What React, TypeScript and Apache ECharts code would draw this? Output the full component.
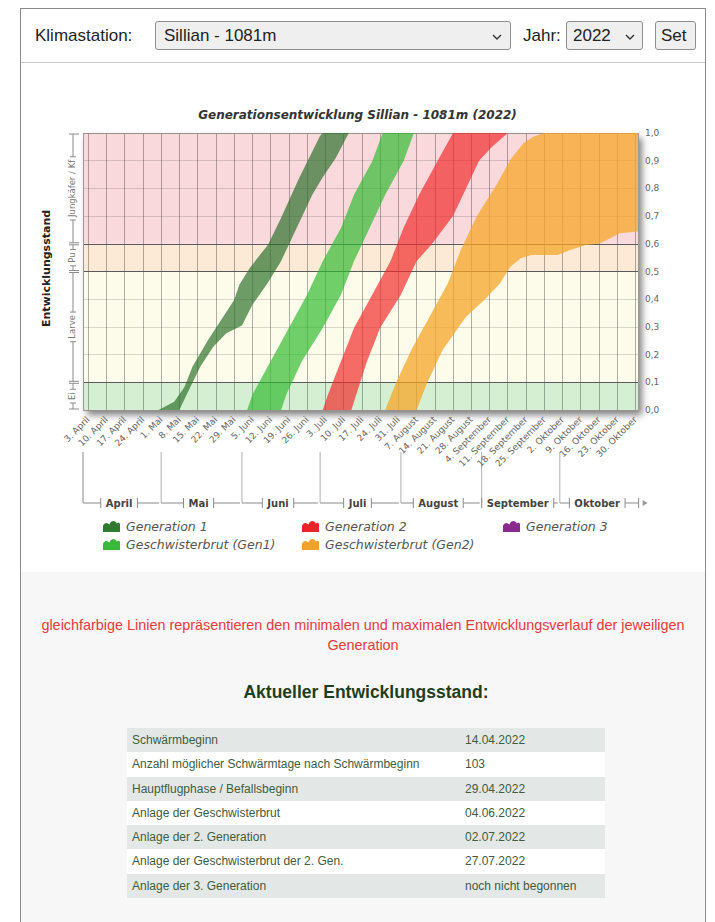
import React, { useEffect, useRef } from 'react';
import * as echarts from 'echarts';

// ---------- data ----------
const YEAR = 2022;
const monthNamesDe = ['Januar', 'Februar', 'März', 'April', 'Mai', 'Juni', 'Juli', 'August', 'September', 'Oktober', 'November', 'Dezember'];
const axisStart = '04-01';
const axisEnd = '10-31';

// Sundays shown as tick labels on the date axis
const weekTicks = [
  '04-03', '04-10', '04-17', '04-24',
  '05-01', '05-08', '05-15', '05-22', '05-29',
  '06-05', '06-12', '06-19', '06-26',
  '07-03', '07-10', '07-17', '07-24', '07-31',
  '08-07', '08-14', '08-21', '08-28',
  '09-04', '09-11', '09-18', '09-25',
  '10-02', '10-09', '10-16', '10-23', '10-30',
];

const monthLabels = ['April', 'Mai', 'Juni', 'Juli', 'August', 'September', 'Oktober'];
const monthStarts = ['04-01', '05-01', '06-01', '07-01', '08-01', '09-01', '10-01', '11-01'];

const stageLabels = ['Ei', 'Larve', 'Pu', 'Jungkäfer / Kf'];
const stageBounds = [0, 0.1, 0.5, 0.6, 1.0];
const stageColors = ['#d5efd3', '#fdfbea', '#fcead6', '#f9d9dc'];
const minorLevels = [0.2, 0.3, 0.4, 0.7, 0.8, 0.9];
const thresholdLevels = [0.1, 0.5, 0.6];

// development curves: [date (MM-DD), Entwicklungsstand]
const gen1Max = [['04-30', 0], ['05-06', 0.03], ['05-10', 0.084], ['05-13', 0.156], ['05-19', 0.253], ['05-24', 0.325], ['05-29', 0.397], ['05-31', 0.452], ['06-04', 0.513], ['06-11', 0.597], ['06-16', 0.693], ['06-23', 0.838], ['07-01', 0.99], ['07-02', 1.0]];
const gen1Min = [['05-08', 0], ['05-11', 0.06], ['05-16', 0.156], ['05-21', 0.228], ['05-26', 0.277], ['06-01', 0.305], ['06-05', 0.38], ['06-11', 0.46], ['06-16', 0.537], ['06-22', 0.657], ['06-28', 0.777], ['07-02', 0.84], ['07-07', 0.91], ['07-12', 1.0]];

const sib1Max = [['06-03', 0], ['06-05', 0.055], ['06-12', 0.176], ['06-19', 0.296], ['06-26', 0.416], ['07-02', 0.537], ['07-09', 0.657], ['07-14', 0.777], ['07-21', 0.898], ['07-25', 1.0]];
const sib1Min = [['06-16', 0], ['06-18', 0.055], ['06-24', 0.176], ['07-02', 0.296], ['07-09', 0.416], ['07-14', 0.537], ['07-20', 0.657], ['07-26', 0.777], ['08-02', 0.898], ['08-06', 1.0]];

const gen2Max = [['07-02', 0], ['07-04', 0.055], ['07-09', 0.176], ['07-14', 0.296], ['07-21', 0.416], ['07-28', 0.537], ['08-02', 0.657], ['08-08', 0.777], ['08-15', 0.898], ['08-21', 1.0]];
const gen2Min = [['07-13', 0], ['07-15', 0.06], ['07-19', 0.176], ['07-24', 0.296], ['08-01', 0.416], ['08-07', 0.537], ['08-13', 0.6], ['08-21', 0.7], ['08-26', 0.8], ['08-31', 0.9], ['09-05', 0.95], ['09-11', 1.0]];

const sib2Max = [['07-26', 0], ['07-30', 0.096], ['08-05', 0.217], ['08-12', 0.337], ['08-19', 0.457], ['08-24', 0.578], ['08-30', 0.698], ['09-07', 0.818], ['09-12', 0.903], ['09-17', 0.963], ['09-21', 0.987], ['09-25', 1.0], ['10-31', 1.0]];
const sib2Min = [['08-07', 0], ['08-11', 0.096], ['08-17', 0.217], ['08-26', 0.337], ['09-02', 0.397], ['09-08', 0.457], ['09-12', 0.517], ['09-16', 0.548], ['09-20', 0.56], ['09-30', 0.56], ['10-05', 0.578], ['10-11', 0.596], ['10-16', 0.6], ['10-19', 0.614], ['10-24', 0.638], ['10-31', 0.644]];

const seriesNames = ['Generation 1', 'Geschwisterbrut (Gen1)', 'Generation 2', 'Geschwisterbrut (Gen2)', 'Generation 3'];
const legendColors = ['#2f7a2f', '#39b83a', '#e8262a', '#f0a22a', '#8a2a8c'];
const bandFills = ['rgba(40,110,40,0.68)', 'rgba(45,185,45,0.68)', 'rgba(240,40,40,0.68)', 'rgba(246,165,40,0.75)'];

const tableRows = [
  ['Schwärmbeginn', '14.04.2022'],
  ['Anzahl möglicher Schwärmtage nach Schwärmbeginn', '103'],
  ['Hauptflugphase / Befallsbeginn', '29.04.2022'],
  ['Anlage der Geschwisterbrut', '04.06.2022'],
  ['Anlage der 2. Generation', '02.07.2022'],
  ['Anlage der Geschwisterbrut der 2. Gen.', '27.07.2022'],
  ['Anlage der 3. Generation', 'noch nicht begonnen'],
];

// ---------- helpers ----------
const BASE = Date.UTC(YEAR, 3, 1);
const dayOf = (md: string) => {
  const [m, d] = md.split('-').map(Number);
  return Math.round((Date.UTC(YEAR, m - 1, d) - BASE) / 86400000);
};
const dayLabel = (v: number) => {
  const dt = new Date(BASE + Math.round(v) * 86400000);
  return dt.getUTCDate() + '. ' + monthNamesDe[dt.getUTCMonth()];
};
const FONT = 'DejaVu Sans';
const measure = (text: string, font: string) => {
  const c = document.createElement('canvas').getContext('2d');
  if (!c) return text.length * 6;
  c.font = font;
  return c.measureText(text).width;
};

function bandSeries(idx: number, maxC: any[], minC: any[]) {
  const pts = maxC.map(([d, v]) => [dayOf(d), v]).concat(minC.slice().reverse().map(([d, v]) => [dayOf(d), v]));
  return {
    type: 'custom',
    name: seriesNames[idx],
    z: 10,
    silent: true,
    itemStyle: { color: legendColors[idx] },
    encode: { x: 0, y: 1 },
    data: pts,
    renderItem: (params: any, api: any) => {
      if (params.dataIndexInside !== 0) return null;
      const n = params.dataInsideLength;
      const points = [];
      for (let i = 0; i < n; i++) points.push(api.coord([api.value(0, i), api.value(1, i)]));
      return { type: 'polygon', shape: { points }, style: { fill: bandFills[idx], stroke: 'none' } };
    },
  };
}

function buildOption() {
  const xMin = dayOf(axisStart);
  const xMax = dayOf(axisEnd);
  const tickDays = weekTicks.map(dayOf);
  const legendCommon = {
    orient: 'vertical',
    padding: 0,
    itemGap: 5,
    itemWidth: 17,
    itemHeight: 11,
    icon: 'path://M0,12 L0,6 C2,3 4,3 6,5 C8,1 11,1 13,4 C14,3 16,3 16,5 L16,12 Z',
    textStyle: { fontFamily: FONT, fontStyle: 'italic', fontSize: 12.5, color: '#555', padding: [0, 0, 0, 1] },
    selectedMode: false,
  };
  const lineData: any[] = [];
  minorLevels.forEach((v) => lineData.push({ yAxis: v, lineStyle: { color: 'rgba(0,0,0,0.14)', width: 1, type: 'solid' } }));
  tickDays.forEach((d) => lineData.push({ xAxis: d, lineStyle: { color: 'rgba(0,0,0,0.30)', width: 1, type: 'solid' } }));
  thresholdLevels.forEach((v) => lineData.push({ yAxis: v, lineStyle: { color: '#5a5a5a', width: 1.2, type: 'solid' } }));
  [0, 1].forEach((v) => lineData.push({ yAxis: v, lineStyle: { color: '#9a9090', width: 1, type: 'solid' } }));
  [xMin, xMax].forEach((d) => lineData.push({ xAxis: d, lineStyle: { color: '#9a9a9a', width: 1, type: 'solid' } }));

  return {
    animation: false,
    textStyle: { fontFamily: FONT },
    title: {
      text: 'Generationsentwicklung Sillian - 1081m (2022)',
      left: 'center',
      top: 47,
      padding: 0,
      textStyle: { fontFamily: FONT, fontSize: 12, fontWeight: 'bold', fontStyle: 'italic', color: '#333' },
    },
    grid: {
      left: 83, right: 77, top: 71, bottom: 162,
      show: true, backgroundColor: '#fff', borderWidth: 0,
      shadowColor: 'rgba(0,0,0,0.5)', shadowBlur: 7, shadowOffsetX: 4, shadowOffsetY: 5,
    },
    xAxis: {
      type: 'value',
      min: xMin,
      max: xMax,
      splitLine: { show: false },
      axisLine: { show: false },
      axisTick: { show: false, customValues: tickDays },
      axisLabel: {
        customValues: tickDays,
        rotate: 45,
        fontSize: 9,
        fontFamily: FONT,
        color: '#666',
        margin: 8,
        formatter: (v: number) => dayLabel(v),
      },
    },
    yAxis: {
      type: 'value',
      position: 'right',
      min: 0,
      max: 1,
      interval: 0.1,
      splitLine: { show: false },
      axisLine: { show: false },
      axisTick: { show: false },
      axisLabel: {
        fontSize: 9,
        fontFamily: FONT,
        color: '#666',
        margin: 7,
        formatter: (v: number) => v.toFixed(1).replace('.', ','),
      },
    },
    legend: [
      { ...legendCommon, left: 103, top: 458, data: [seriesNames[0], seriesNames[1]] },
      { ...legendCommon, left: 302, top: 458, data: [seriesNames[2], seriesNames[3]] },
      { ...legendCommon, left: 503, top: 458, data: [seriesNames[4]] },
    ],
    series: [
      {
        type: 'line',
        data: [],
        silent: true,
        markArea: {
          silent: true,
          data: stageColors.map((c, i) => [
            { xAxis: xMin, yAxis: stageBounds[i], itemStyle: { color: c } },
            { xAxis: xMax, yAxis: stageBounds[i + 1] },
          ]),
        },
        markLine: {
          silent: true,
          symbol: ['none', 'none'],
          label: { show: false },
          data: lineData,
        },
      },
      bandSeries(0, gen1Max, gen1Min),
      bandSeries(1, sib1Max, sib1Min),
      bandSeries(2, gen2Max, gen2Min),
      bandSeries(3, sib2Max, sib2Min),
      {
        type: 'custom',
        name: seriesNames[4],
        itemStyle: { color: legendColors[4] },
        data: [],
        renderItem: () => null,
      },
    ],
  };
}

function txt(text: string, x: number, y: number, size: number, opts: any = {}) {
  return {
    type: 'text',
    x, y,
    rotation: opts.rotation || 0,
    silent: true,
    style: {
      text,
      fontSize: size,
      fontFamily: FONT,
      fontWeight: opts.weight || 'normal',
      fill: opts.color || '#444',
      align: 'center', textAlign: 'center',
      verticalAlign: 'middle', textVerticalAlign: 'middle',
    },
  };
}
function seg(x1: number, y1: number, x2: number, y2: number, color: string) {
  return { type: 'line', silent: true, shape: { x1, y1, x2, y2 }, style: { stroke: color, lineWidth: 1 } };
}

function buildGraphic(chart: any) {
  const px = (d: number) => chart.convertToPixel({ xAxisIndex: 0 }, d);
  const py = (v: number) => chart.convertToPixel({ yAxisIndex: 0 }, v);
  const els: any[] = [];
  const y0 = py(0);
  const y1 = py(1);

  // y axis title
  els.push(txt('Entwicklungsstand', 46, (y0 + y1) / 2 - 3, 11, { rotation: Math.PI / 2, weight: 'bold', color: '#222' }));

  // stage bracket on the left
  const sx = 73;
  const sColor = '#8a8a8a';
  stageLabels.forEach((lab, i) => {
    const ya = py(stageBounds[i]);
    const yb = py(stageBounds[i + 1]);
    const c = (ya + yb) / 2;
    const half = measure(lab, '8.5px "DejaVu Sans"') / 2 + 3;
    els.push(seg(sx, yb + 1, sx, c - half, sColor));
    els.push(seg(sx, c + half, sx, ya - 1, sColor));
    els.push(seg(sx - 3, c - half, sx + 3, c - half, sColor));
    els.push(seg(sx - 3, c + half, sx + 3, c + half, sColor));
    els.push(seg(sx - 4, yb + 1, sx + 6, yb + 1, sColor));
    els.push(seg(sx - 4, ya - 1, sx + 6, ya - 1, sColor));
    els.push(txt(lab, sx - 1, c, 8.5, { rotation: Math.PI / 2, color: '#777' }));
  });

  // month bracket below the date labels
  const ly = y0 + 93;
  const mColor = '#8a8a8a';
  monthLabels.forEach((lab, i) => {
    const ps = px(dayOf(monthStarts[i]));
    const pe = px(dayOf(monthStarts[i + 1]));
    const c = (ps + pe) / 2 - 3;
    const half = measure(lab, 'bold 10px "DejaVu Sans"') / 2 + 5;
    els.push(seg(ps, y0 + 42, ps, ly, i === 0 ? mColor : '#b0b0b0'));
    els.push(seg(ps, ly, c - half, ly, mColor));
    els.push(seg(c + half, ly, pe - 2, ly, mColor));
    els.push(seg(c - half, ly - 5, c - half, ly + 5, mColor));
    els.push(seg(c + half, ly - 5, c + half, ly + 5, mColor));
    els.push(txt(lab, c, ly, 10, { weight: 'bold', color: '#444' }));
  });
  const pEnd = px(dayOf(monthStarts[monthStarts.length - 1]));
  els.push(seg(pEnd - 2, ly - 5, pEnd - 2, ly + 5, mColor));
  els.push({ type: 'polygon', silent: true, shape: { points: [[pEnd + 2, ly - 3], [pEnd + 7, ly], [pEnd + 2, ly + 3]] }, style: { fill: '#999' } });

  return els;
}

function Chart() {
  const ref = useRef<HTMLDivElement>(null);
  useEffect(() => {
    const chart = echarts.init(ref.current as HTMLDivElement, null, { renderer: 'svg' });
    chart.setOption(buildOption() as any);
    chart.setOption({ graphic: { elements: buildGraphic(chart) } } as any);
    return () => chart.dispose();
  }, []);
  return <div ref={ref} style={{ position: 'absolute', left: 0, top: 62, width: 715, height: 510 }} />;
}

function Chevron({ x }: { x: number }) {
  return (
    <svg width="10" height="8" style={{ position: 'absolute', left: x, top: 11 }}>
      <polyline points="1,2 5,6 9,2" fill="none" stroke="#333" strokeWidth="1.4" />
    </svg>
  );
}

const headerText: React.CSSProperties = {
  position: 'absolute', fontFamily: 'Liberation Sans, Arial, sans-serif', fontSize: 17, color: '#222', lineHeight: '29px',
};
const boxStyle: React.CSSProperties = {
  position: 'absolute', top: 21, height: 29, boxSizing: 'border-box', background: '#efefef',
  border: '1px solid #8e8e8e', borderRadius: 3,
};

export default function App() {
  return (
    <div style={{ position: 'absolute', left: 0, top: 0, width: 715, height: 922, overflow: 'hidden', background: '#fff' }}>
      {/* frame */}
      <div style={{ position: 'absolute', left: 20, top: 8, width: 686, height: 930, boxSizing: 'border-box', border: '1px solid #8a8a8a', background: '#f7f7f7' }} />
      <div style={{ position: 'absolute', left: 21, top: 9, width: 684, height: 53, background: '#fff', borderBottom: '1px solid #c8c8c8' }} />
      <div style={{ position: 'absolute', left: 21, top: 63, width: 684, height: 509, background: '#fff' }} />

      {/* header */}
      <div style={{ ...headerText, left: 35, top: 21 }}>Klimastation:</div>
      <div style={{ ...boxStyle, left: 155, width: 356 }}>
        <div style={{ ...headerText, left: 8, top: -1 }}>Sillian - 1081m</div>
        <Chevron x={336} />
      </div>
      <div style={{ ...headerText, left: 523, top: 21 }}>Jahr:</div>
      <div style={{ ...boxStyle, left: 566, width: 77 }}>
        <div style={{ ...headerText, left: 6, top: -1 }}>2022</div>
        <Chevron x={58} />
      </div>
      <div style={{ ...boxStyle, left: 655, width: 41 }}>
        <div style={{ ...headerText, left: 5, top: -1 }}>Set</div>
      </div>

      <Chart />

      {/* note */}
      <div style={{ position: 'absolute', left: 21, top: 615, width: 684, textAlign: 'center', fontFamily: 'Liberation Sans, Arial, sans-serif', fontSize: 14.4, lineHeight: '20px', color: '#e8383d', whiteSpace: 'nowrap' }}>
        gleichfarbige Linien repräsentieren den minimalen und maximalen Entwicklungsverlauf der jeweiligen<br />Generation
      </div>

      {/* status table */}
      <div style={{ position: 'absolute', left: 127, top: 680, width: 478, textAlign: 'center', fontFamily: 'Liberation Sans, Arial, sans-serif', fontWeight: 'bold', fontSize: 17.5, lineHeight: '24px', color: '#1d3f1e' }}>
        Aktueller Entwicklungsstand:
      </div>
      <div style={{ position: 'absolute', left: 127, top: 728, width: 478 }}>
        {tableRows.map((r, i) => (
          <div key={i} style={{ position: 'relative', height: 24.3, background: i % 2 === 0 ? '#e3e8e7' : '#ffffff', fontFamily: 'Liberation Sans, Arial, sans-serif', fontSize: 12, lineHeight: '24.3px', color: '#3f5c40' }}>
            <span style={{ position: 'absolute', left: 5 }}>{r[0]}</span>
            <span style={{ position: 'absolute', left: 338 }}>{r[1]}</span>
          </div>
        ))}
      </div>
    </div>
  );
}
